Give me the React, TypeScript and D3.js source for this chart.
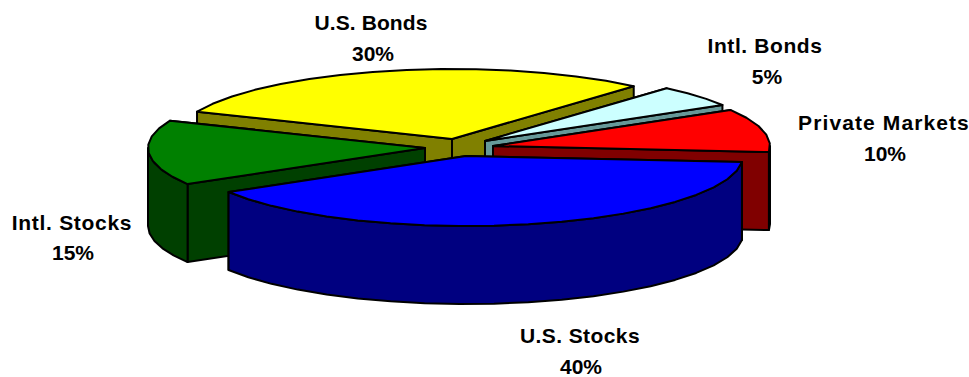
import React from "react";
import * as d3 from "d3";

// Asset allocation shares, in drawing order clockwise from the right-hand edge.
const categories = ["U.S. Stocks", "Intl. Stocks", "U.S. Bonds", "Intl. Bonds", "Private Markets"];
const shares = [40, 15, 30, 5, 10];
const shareLabels = ["40%", "15%", "30%", "5%", "10%"];

const topColors = ["#0000ff", "#008000", "#ffff00", "#ccffff", "#ff0000"];
const wallColors = ["#000080", "#004000", "#808000", "#669999", "#800000"];

// Where each wedge's tip lands after the pie is exploded.
const tipX = [466, 425, 452, 485, 493];
const tipY = [156, 148, 139, 141, 146];

const labelX = [580, 72, 371, 765, 884];
const labelY = [343, 230, 30, 53, 130];
const valueX = [581, 73, 373, 767, 885];
const valueY = [374, 260, 61, 84, 161];
const labelTracking = [0.4, 0.7, 0.1, 0.6, 1.1];

const WIDTH = 969;
const HEIGHT = 377;
const RX = 277;
const RY = 70;
const DEPTH = 78;
const STEP = Math.PI / 25;
const START = (95 * Math.PI) / 180;

type Pt = [number, number];

const line = d3.line<Pt>().x((d) => d[0]).y((d) => d[1]);

const pieLayout = d3
  .pie<number>()
  .sort(null)
  .startAngle(START)
  .endAngle(START + 2 * Math.PI);

function rim(tip: Pt, a: number): Pt {
  return [tip[0] + RX * Math.sin(a), tip[1] - RY * Math.cos(a)];
}

function arcPoints(tip: Pt, a0: number, a1: number): Pt[] {
  const n = Math.max(1, Math.ceil((a1 - a0) / STEP));
  return d3.range(n + 1).map((i) => rim(tip, a0 + ((a1 - a0) * i) / n));
}

const drop = (p: Pt): Pt => [p[0], p[1] + DEPTH];

function Wedge({ tip, a0, a1, top, wall }: { tip: Pt; a0: number; a1: number; top: string; wall: string }) {
  const edges = [a0, a1].sort((p, q) => rim(tip, p)[1] - rim(tip, q)[1]);
  const faces = edges.map((a) => {
    const e = rim(tip, a);
    return [tip, e, drop(e), drop(tip)] as Pt[];
  });

  // The outer wall shows only along the near half of the ellipse.
  const lo = Math.PI / 2;
  const hi = (3 * Math.PI) / 2;
  const spans: [number, number][] = [];
  for (const k of [0, 2 * Math.PI]) {
    const s = Math.max(a0, lo + k);
    const e = Math.min(a1, hi + k);
    if (e > s) spans.push([s, e]);
  }

  const stroke = { stroke: "#000", strokeWidth: 2, strokeLinejoin: "round" as const };
  return (
    <g>
      {faces.map((f, i) => (
        <path key={i} d={line(f) + "Z"} fill={wall} {...stroke} />
      ))}
      {spans.map(([s, e], i) => {
        const upper = arcPoints(tip, s, e);
        const lower = upper.map(drop).reverse();
        return <path key={i} d={line([...upper, ...lower]) + "Z"} fill={wall} {...stroke} />;
      })}
      <path d={line([tip, ...arcPoints(tip, a0, a1)]) + "Z"} fill={top} {...stroke} />
    </g>
  );
}

export default function App() {
  const slices = pieLayout(shares);
  // Painted from the back of the pie to the front.
  const paintOrder = [2, 1, 3, 4, 0];
  const text = {
    fontFamily: "'Liberation Sans', Arial, sans-serif",
    fontWeight: 700,
    fontSize: 21,
    fill: "#000",
    textAnchor: "middle" as const,
  };
  return (
    <svg
      width={WIDTH}
      height={HEIGHT}
      viewBox={`0 0 ${WIDTH} ${HEIGHT}`}
      style={{ position: "absolute", left: 0, top: 0, background: "#fff" }}
    >
      {paintOrder.map((i) => (
        <Wedge
          key={i}
          tip={[tipX[i], tipY[i]]}
          a0={slices[i].startAngle}
          a1={slices[i].endAngle}
          top={topColors[i]}
          wall={wallColors[i]}
        />
      ))}
      {categories.map((c, i) => (
        <g key={c}>
          <text x={labelX[i]} y={labelY[i]} letterSpacing={labelTracking[i]} {...text}>
            {c}
          </text>
          <text x={valueX[i]} y={valueY[i]} {...text}>
            {shareLabels[i]}
          </text>
        </g>
      ))}
    </svg>
  );
}
